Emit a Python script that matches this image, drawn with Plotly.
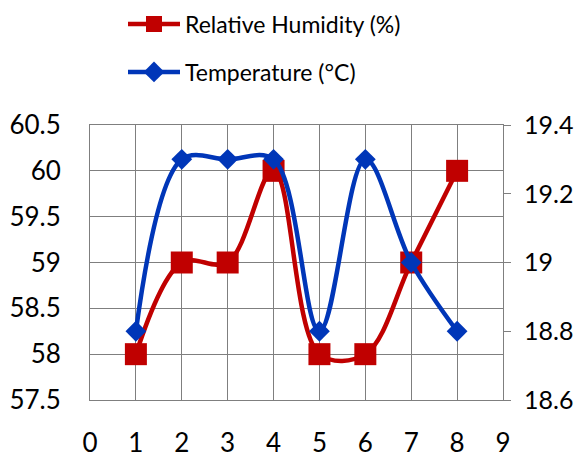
import plotly.graph_objects as go

x_vals = [1, 2, 3, 4, 5, 6, 7, 8]
humidity = [58, 59, 59, 60, 58, 58, 59, 60]
temperature = [18.8, 19.3, 19.3, 19.3, 18.8, 19.3, 19.0, 18.8]

RED = "#C00000"
BLUE = "#0036B8"
GRID = "#7F7F7F"
FONT = "Lato"

# page body has an 8px default margin; size the figure to fit the window
W, H = 578, 452

fig = go.Figure()
fig.add_trace(go.Scatter(
    x=x_vals, y=humidity, name="Relative Humidity (%)",
    mode="lines+markers",
    line=dict(color=RED, width=4.5, shape="spline", smoothing=1.0),
    marker=dict(symbol="square", size=22, color=RED),
    legend="legend",
))
fig.add_trace(go.Scatter(
    x=x_vals, y=temperature, name="Temperature (°C)",
    mode="lines+markers",
    line=dict(color=BLUE, width=4.5, shape="spline", smoothing=1.0),
    marker=dict(symbol="diamond", size=16, color=BLUE),
    yaxis="y2", legend="legend2",
))

legend_common = dict(
    font=dict(family=FONT, size=23, color="black"),
    bgcolor="rgba(0,0,0,0)", xref="container", yref="container",
    xanchor="left", yanchor="middle", itemwidth=52,
)

fig.update_layout(
    width=W, height=H,
    margin=dict(l=82, r=83, t=117, b=60, autoexpand=False),
    paper_bgcolor="white", plot_bgcolor="white",
    font=dict(family=FONT, size=26, color="black"),
    showlegend=True,
    legend=dict(x=115 / W, y=1 - 16 / H, **legend_common),
    legend2=dict(x=115 / W, y=1 - 64 / H, **legend_common),
    xaxis=dict(
        range=[0, 9], dtick=1, tick0=0,
        showgrid=True, gridcolor=GRID, gridwidth=1,
        showline=True, linecolor=GRID, mirror=True,
        zeroline=False, ticks="", ticklabelstandoff=20,
        tickfont=dict(family=FONT, size=26), automargin=False,
    ),
    yaxis=dict(
        range=[57.5, 60.5], dtick=0.5, tick0=57.5,
        showgrid=True, gridcolor=GRID, gridwidth=1,
        showline=True, linecolor=GRID,
        zeroline=False, ticks="", ticklabelstandoff=23,
        tickfont=dict(family=FONT, size=26), automargin=False,
    ),
    yaxis2=dict(
        range=[18.6, 19.4], dtick=0.2, tick0=18.6,
        overlaying="y", side="right",
        showgrid=False, showline=True, linecolor=GRID,
        zeroline=False, ticks="outside", ticklen=7, tickcolor=GRID,
        ticklabelstandoff=8,
        tickfont=dict(family=FONT, size=25), automargin=False,
    ),
)

fig.write_html("out.html")
